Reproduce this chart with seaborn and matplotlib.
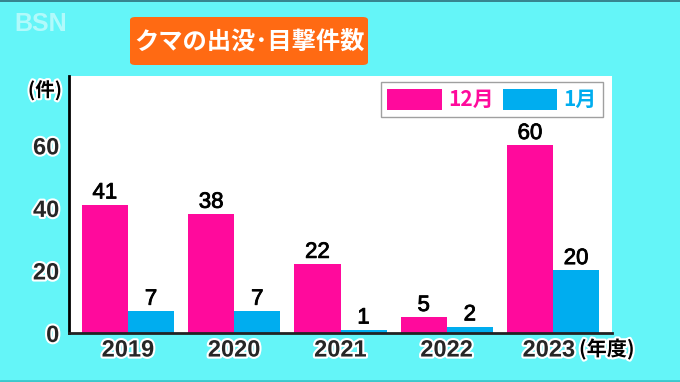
import numpy as np
import pandas as pd
import seaborn as sns
import matplotlib.pyplot as plt
import matplotlib.patheffects as pe
import matplotlib.transforms as mtrans
from matplotlib.patches import FancyBboxPatch
from matplotlib.lines import Line2D

years = ["2019", "2020", "2021", "2022", "2023"]
dec_counts = [41, 38, 22, 5, 60]
jan_counts = [7, 7, 1, 2, 20]
series_names = ["12月", "1月"]
y_ticks = [0, 20, 40, 60]

title = "クマの出没･目撃件数"
unit_label = "(件)"
year_suffix = "(年度)"

bg = "#64F5F8"
pink = "#FF0A9C"
blue = "#00ADEF"
orange = "#FF6A13"

df = pd.DataFrame({
    "year": years * 2,
    "count": dec_counts + jan_counts,
    "month": [series_names[0]] * len(years) + [series_names[1]] * len(years),
})

sns.set_style("white")
plt.rcParams["font.family"] = ["Noto Sans CJK JP", "DejaVu Sans"]
num_font = ["Liberation Sans", "Noto Sans CJK JP"]

W, H = 680, 382
fig = plt.figure(figsize=(6.8, 3.82), dpi=100, facecolor=bg)
ax = fig.add_axes([69 / W, (H - 333) / H, (612 - 69) / W, (333 - 76) / H])
ax.set_facecolor("white")

sns.barplot(data=df, x="year", y="count", hue="month", hue_order=series_names,
            palette=[pink, blue], width=0.868, gap=0, saturation=1,
            edgecolor="none", ax=ax)

ax.set_xlim(-0.555, 4.555)
ax.set_ylim(0, 82.2)
ax.set_yticks(y_ticks)
ax.set_xlabel("")
ax.set_ylabel("")

outline = [pe.withStroke(linewidth=3, foreground="white")]
# white halo plus a slight black stroke to thicken the value digits
value_fx = [pe.Stroke(linewidth=3.5, foreground="white"),
            pe.Stroke(linewidth=0.6, foreground="black"), pe.Normal()]

for c in ax.containers:
    labels = ax.bar_label(c, fmt="%d", padding=1, fontsize=16, color="black",
                          family=num_font)
    for t in labels:
        t.set_path_effects(value_fx)

for side in ["top", "right"]:
    ax.spines[side].set_visible(False)
ax.spines["left"].set_color("black")
ax.spines["left"].set_linewidth(2)
ax.spines["bottom"].set_color("#222222")
ax.spines["bottom"].set_linewidth(2)
ax.tick_params(axis="both", length=0, labelsize=17)
ax.tick_params(axis="y", pad=7)
ax.tick_params(axis="x", pad=4)
for t in ax.get_xticklabels() + ax.get_yticklabels():
    t.set_fontweight("bold")
    t.set_family(num_font)
    t.set_path_effects(outline)

# last year label sits a little left to make room for the suffix
last = ax.get_xticklabels()[-1]
last.set_transform(last.get_transform() +
                   mtrans.ScaledTranslation(-4 / 100, 0, fig.dpi_scale_trans))

leg = ax.legend(loc="upper right", bbox_to_anchor=(0.983, 0.975), ncol=2,
                frameon=True, fancybox=False, edgecolor="#888888",
                fontsize=15, handlelength=2.6, handleheight=1.2,
                handletextpad=0.3, columnspacing=0.45, borderpad=0.3,
                borderaxespad=0)
leg.get_frame().set_linewidth(1)
for txt, col in zip(leg.get_texts(), [pink, blue]):
    txt.set_color(col)
    txt.set_fontweight("bold")

# title box
box = FancyBboxPatch((130 / W, 1 - 65 / H), (368 - 130) / W, 48 / H,
                     boxstyle="round,pad=0,rounding_size=0.008",
                     transform=fig.transFigure, facecolor=orange,
                     edgecolor="none", zorder=1)
fig.patches.append(box)
fig.text(249 / W, 1 - 42 / H, title, ha="center", va="center", fontsize=17.5,
         fontweight="bold", color="white", zorder=2)

fig.text(45 / W, 1 - 90 / H, unit_label, ha="center", va="center",
         fontsize=14, fontweight="bold", color="black",
         path_effects=outline)
fig.text(579 / W, 1 - 349 / H, year_suffix, ha="left", va="center",
         fontsize=14.5, fontweight="bold", color="black",
         path_effects=outline)

fig.text(14 / W, 1 - 24 / H, "BSN", ha="left", va="center", fontsize=18,
         fontweight="bold", color="white", alpha=0.5, family=num_font)

# thin frame lines at the top and bottom edges
fig.lines.append(Line2D([0, 1], [1 - 0.5 / H, 1 - 0.5 / H], transform=fig.transFigure,
                        color="#2E6F7C", linewidth=1.2))
fig.lines.append(Line2D([0, 1], [1.2 / H, 1.2 / H], transform=fig.transFigure,
                        color="#3CC8CC", linewidth=2))

fig.savefig("out.png", dpi=100, facecolor=bg)
